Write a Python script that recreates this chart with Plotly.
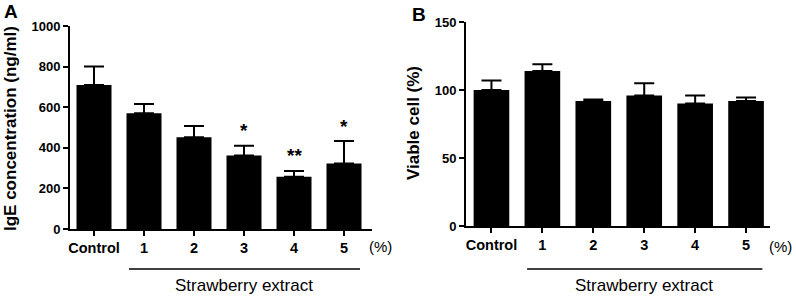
import plotly.graph_objects as go

categories = ["Control", "1", "2", "3", "4", "5"]
ige_values = [709, 570, 452, 362, 257, 323]
ige_errors = [91, 46, 55, 48, 29, 110]
ige_marks = ["", "", "", "*", "**", "*"]
viable_values = [100, 114, 92, 96, 90, 92]
viable_errors = [7, 5, 1, 9, 6, 2.5]
ige_ticks = [0, 200, 400, 600, 800, 1000]
viable_ticks = [0, 50, 100, 150]

W, H = 796, 296
def px(x):
    return x / W
def py(y):
    return (H - y) / H

FONT = "Liberation Sans, Arial, sans-serif"
xs = list(range(len(categories)))

fig = go.Figure()
fig.add_trace(go.Bar(
    x=xs, y=ige_values, width=0.7, marker=dict(color="black", line=dict(width=0)),
    error_y=dict(type="data", array=ige_errors, arrayminus=[0]*6, symmetric=False,
                 color="black", thickness=2, width=10),
    xaxis="x", yaxis="y", showlegend=False))
fig.add_trace(go.Bar(
    x=xs, y=viable_values, width=0.7, marker=dict(color="black", line=dict(width=0)),
    error_y=dict(type="data", array=viable_errors, arrayminus=[0]*6, symmetric=False,
                 color="black", thickness=2, width=10),
    xaxis="x2", yaxis="y2", showlegend=False))

base = dict(showline=True, linecolor="black", linewidth=2, ticks="outside",
            tickcolor="black", tickwidth=2, ticklen=5, showgrid=False,
            zeroline=False, automargin=False)
xfont = dict(family=FONT, size=14.5, color="black", weight="bold")
yfont = dict(family=FONT, size=13, color="black", weight="bold")

fig.update_layout(
    template="none",
    width=W, height=H, margin=dict(l=0, r=0, t=0, b=0, pad=0, autoexpand=False),
    plot_bgcolor="white", paper_bgcolor="white",
    xaxis=dict(domain=[px(70), px(372)], range=[-0.48, 5.56], tickvals=xs, ticktext=categories,
               anchor="y", tickfont=xfont, **base),
    yaxis=dict(domain=[py(229), py(26)], range=[0, 1000], tickvals=ige_ticks,
               anchor="x", tickfont=yfont, **base),
    xaxis2=dict(domain=[px(466), px(770)], range=[-0.5, 5.47], tickvals=xs, ticktext=categories,
                anchor="y2", tickfont=xfont, **base),
    yaxis2=dict(domain=[py(226), py(22)], range=[0, 150], tickvals=viable_ticks,
                anchor="x2", tickfont=yfont, **base),
)

C = dict(xanchor="center", yanchor="middle", showarrow=False)
ann = []
# significance marks
for i, m in enumerate(ige_marks):
    if m:
        ann.append(dict(x=i, y=ige_values[i] + ige_errors[i], xref="x", yref="y", text=m,
                        yshift=15, font=dict(family=FONT, size=19, color="black", weight="bold"), **C))
# axis titles
ann.append(dict(x=px(10), y=py(129), xref="paper", yref="paper", text="IgE concentration (ng/ml)",
                textangle=-90, font=dict(family=FONT, size=17, color="black", weight="bold"), **C))
ann.append(dict(x=px(413), y=py(123), xref="paper", yref="paper", text="Viable cell (%)",
                textangle=-90, font=dict(family=FONT, size=17, color="black", weight="bold"), **C))
# panel letters
ann.append(dict(x=px(11), y=py(11), xref="paper", yref="paper", text="A",
                font=dict(family=FONT, size=19, color="black", weight="bold"), **C))
ann.append(dict(x=px(419), y=py(15), xref="paper", yref="paper", text="B",
                font=dict(family=FONT, size=19, color="black", weight="bold"), **C))
# (%) and group labels
for xpx in (380, 780):
    ann.append(dict(x=px(xpx), y=py(246), xref="paper", yref="paper", text="(%)",
                    font=dict(family=FONT, size=15, color="black"), **C))
for xr in ("x", "x2"):
    ann.append(dict(x=3, y=py(285), xref=xr, yref="paper", text="Strawberry extract",
                    font=dict(family=FONT, size=17, color="black"), **C))
fig.update_layout(annotations=ann)

shapes = [
    dict(type="line", xref=xr, yref="paper", x0=0.7, x1=5.32, y0=py(269), y1=py(269),
         line=dict(color="black", width=1.5))
    for xr in ("x", "x2")
]
fig.update_layout(shapes=shapes)

fig.write_html("out.html", config={"displayModeBar": False},
               post_script="document.body.style.margin='0';")
